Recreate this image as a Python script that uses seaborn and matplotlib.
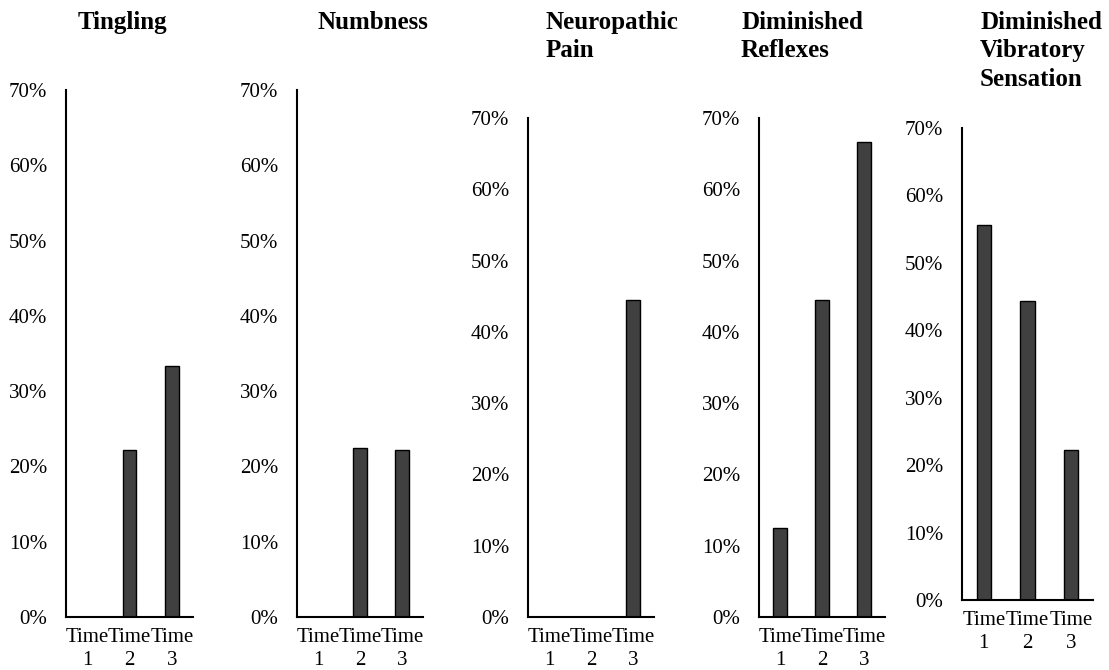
import numpy as np
import pandas as pd
import seaborn as sns
import matplotlib.pyplot as plt
from matplotlib.ticker import PercentFormatter

sns.set_style("white", {'text.color': 'black', 'xtick.color': 'black',
                        'ytick.color': 'black', 'axes.labelcolor': 'black'})
plt.rcParams['font.family'] = ['Liberation Serif', 'DejaVu Serif']

times = ['Time\n1', 'Time\n2', 'Time\n3']

tingling = [0.0, 22.2, 33.3]
numbness = [0.0, 22.5, 22.2]
neuro_pain = [0.0, 0.0, 44.4]
reflexes = [12.5, 44.4, 66.7]
vibratory = [55.6, 44.4, 22.2]

titles = ['Tingling', 'Numbness', 'Neuropathic\nPain',
          'Diminished\nReflexes', 'Diminished\nVibratory\nSensation']
series = [tingling, numbness, neuro_pain, reflexes, vibratory]

W, H = 1109, 670
fig = plt.figure(figsize=(W / 100, H / 100), dpi=100)

# axes boxes in pixels: left, right, top, bottom
boxes = [(66, 193, 90, 617), (297, 423, 90, 617), (528, 654, 118, 617),
         (759, 885, 118, 617), (962, 1093, 128, 600)]
title_x = [78, 318, 546, 741, 980]

for i, (vals, box) in enumerate(zip(series, boxes)):
    l, r, t, b = box
    ax = fig.add_axes([l / W, (H - b) / H, (r - l) / W, (b - t) / H])
    df = pd.DataFrame({'time': times, 'pct': np.array(vals) / 100})
    sns.barplot(data=df, x='time', y='pct', color='#404040', width=0.33,
                edgecolor='black', linewidth=1.0, saturation=1, ax=ax)
    ax.set_ylim(0, 0.7)
    ax.set_yticks(np.arange(0, 0.71, 0.1))
    ax.yaxis.set_major_formatter(PercentFormatter(1.0, decimals=0))
    ax.set_xlim(-0.5, 2.5)
    ax.set_xlabel('')
    ax.set_ylabel('')
    ax.tick_params(axis='y', length=0, pad=13.5, labelsize=15, labelcolor='black')
    ax.tick_params(axis='x', length=0, pad=8, labelsize=15, labelcolor='black')
    for lab in ax.get_xticklabels():
        lab.set_linespacing(1.25)
    sns.despine(ax=ax, top=True, right=True)
    for s in ['left', 'bottom']:
        ax.spines[s].set_color('black')
        ax.spines[s].set_linewidth(1.5)

    fig.text(title_x[i] / W, 1 - 11 / H, titles[i], ha='left', va='top',
             fontsize=18, fontweight='bold', linespacing=1.3, color='black')

plt.savefig('out.png', dpi=100)
